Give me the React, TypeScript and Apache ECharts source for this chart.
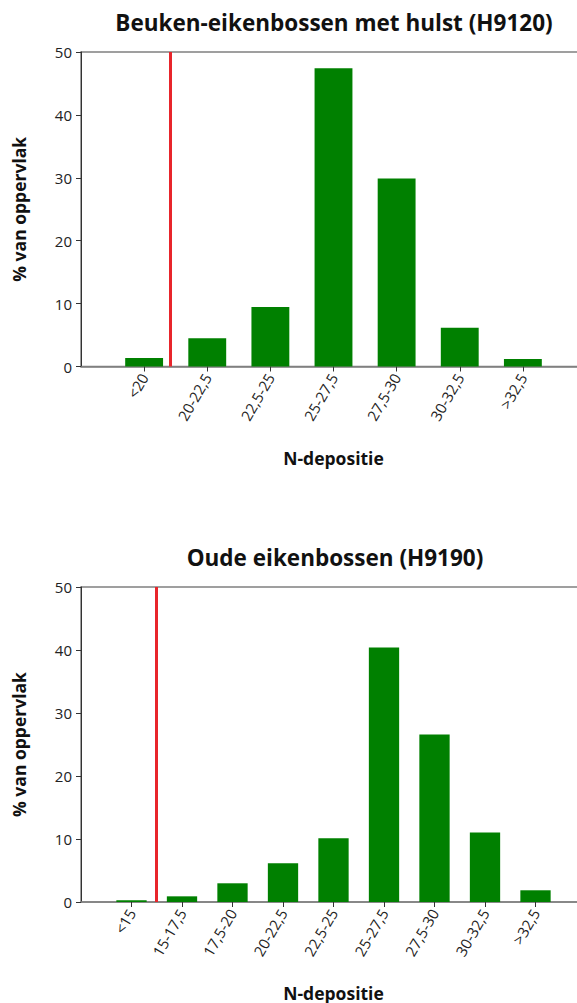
import React, { useEffect, useRef } from "react";
import * as echarts from "echarts";

const title1 = "Beuken-eikenbossen met hulst (H9120)";
const categories1 = ["<20", "20-22,5", "22,5-25", "25-27,5", "27,5-30", "30-32,5", ">32,5"];
const values1 = [1.35, 4.5, 9.45, 47.4, 29.9, 6.15, 1.2];
const kdwPos1 = 1.42;

const title2 = "Oude eikenbossen (H9190)";
const categories2 = ["<15", "15-17,5", "17,5-20", "20-22,5", "22,5-25", "25-27,5", "27,5-30", "30-32,5", ">32,5"];
const values2 = [0.27, 0.9, 2.97, 6.14, 10.1, 40.4, 26.6, 11.05, 1.86];
const kdwPos2 = 1.49;

const yTicks = [0, 10, 20, 30, 40, 50];
const xName = "N-depositie";
const yName = "% van oppervlak";

const FONT = "Open Sans";

function xAxisFor(gridIndex: number, cats: string[]) {
  const positions = cats.map((_, i) => i + 1);
  return {
    type: "value",
    gridIndex,
    min: 0,
    max: cats.length + 1,
    interval: 1,
    splitLine: { show: false },
    axisLine: { show: true, lineStyle: { color: "#808080", width: 1.5 } },
    axisTick: { show: true, customValues: positions, length: 5, lineStyle: { color: "#333" } },
    axisLabel: {
      customValues: positions,
      rotate: 60,
      margin: 8,
      fontSize: 15,
      color: "#222",
      fontFamily: FONT,
      formatter: (v: number) => cats[Math.round(v) - 1] ?? "",
    },
    name: xName,
    nameLocation: "middle",
    nameGap: 82,
    nameTextStyle: { fontSize: 17.5, fontWeight: "bold", color: "#111", fontFamily: FONT },
  };
}

function yAxisFor(gridIndex: number) {
  return {
    type: "value",
    gridIndex,
    min: yTicks[0],
    max: yTicks[yTicks.length - 1],
    interval: 10,
    splitLine: { show: false },
    axisLine: { show: true, lineStyle: { color: "#333", width: 1 } },
    axisTick: { show: true, length: 5, lineStyle: { color: "#333" } },
    axisLabel: { fontSize: 15, color: "#222", margin: 9, fontFamily: FONT },
    name: yName,
    nameLocation: "middle",
    nameGap: 53,
    nameTextStyle: { fontSize: 17.5, fontWeight: "bold", color: "#111", fontFamily: FONT },
  };
}

function barSeries(idx: number, vals: number[], kdw: number) {
  return {
    type: "bar",
    xAxisIndex: idx,
    yAxisIndex: idx,
    barWidth: "60%",
    itemStyle: { color: "#008000" },
    data: vals.map((v, i) => [i + 1, v]),
    markLine: {
      silent: true,
      symbol: ["none", "none"],
      label: { show: false },
      lineStyle: { color: "#e8252b", width: 3, type: "solid", opacity: 1 },
      data: [{ xAxis: kdw }],
    },
  };
}

export default function App() {
  const ref = useRef<HTMLDivElement>(null);
  useEffect(() => {
    if (!ref.current) return;
    const chart = echarts.init(ref.current, undefined, { renderer: "svg" });
    chart.setOption({
      animation: false,
      backgroundColor: "#ffffff",
      textStyle: { fontFamily: FONT },
      graphic: [
        {
          type: "text",
          x: 334,
          y: 22,
          style: {
            text: title1,
            align: "center",
            verticalAlign: "middle",
            font: `bold 22.5px "${FONT}"`,
            fill: "#111",
          },
        },
        {
          type: "text",
          x: 335,
          y: 557,
          style: {
            text: title2,
            align: "center",
            verticalAlign: "middle",
            font: `bold 22.5px "${FONT}"`,
            fill: "#111",
          },
        },
      ],
      grid: [
        { left: 81, top: 52, right: -9, height: 314.5, outerBoundsMode: "none", containLabel: false, show: true, borderColor: "#808080", borderWidth: 1.5, backgroundColor: "transparent" },
        { left: 81, top: 587, right: -9, height: 315, outerBoundsMode: "none", containLabel: false, show: true, borderColor: "#808080", borderWidth: 1.5, backgroundColor: "transparent" },
      ],
      xAxis: [xAxisFor(0, categories1), xAxisFor(1, categories2)],
      yAxis: [yAxisFor(0), yAxisFor(1)],
      series: [barSeries(0, values1, kdwPos1), barSeries(1, values2, kdwPos2)],
    });
    return () => chart.dispose();
  }, []);
  return (
    <div
      ref={ref}
      style={{ position: "absolute", left: 0, top: 0, width: 577, height: 1003, background: "#fff" }}
    />
  );
}
